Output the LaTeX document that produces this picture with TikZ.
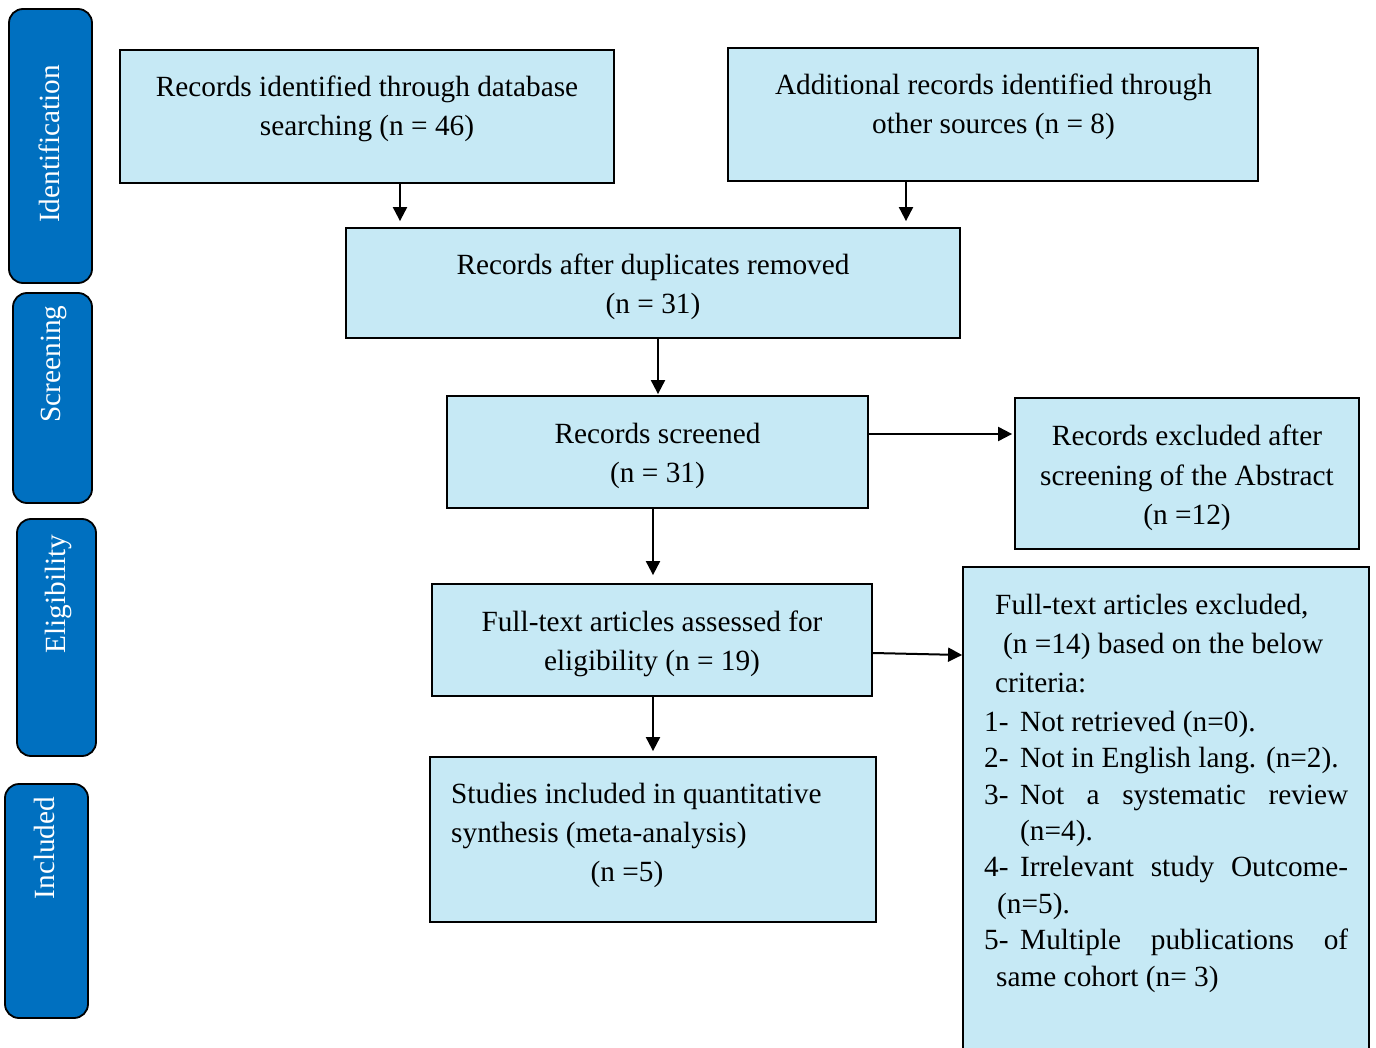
\documentclass[tikz,border=0pt]{standalone}
\usepackage{fontspec}
\setmainfont{Liberation Serif}
\usetikzlibrary{arrows.meta}
\definecolor{boxblue}{HTML}{C6E9F5}
\definecolor{tabblue}{HTML}{0070C0}
\tikzset{
  fbox/.style={draw=black, line width=1.8pt, fill=boxblue, inner sep=0pt},
  tabbox/.style={draw=black, line width=1.8pt, fill=tabblue, rounded corners=14pt, inner sep=0pt},
  tabtxt/.style={rotate=90, text=white, inner sep=0pt, font=\fontsize{29.3pt}{39pt}\selectfont},
  txt/.style={inner sep=0pt, anchor=base, font=\fontsize{29.3pt}{39pt}\selectfont},
  ltxt/.style={txt, anchor=base west},
  arr/.style={line width=2pt, -{Triangle[length=14pt,width=14pt]}}
}
\begin{document}
\begin{tikzpicture}[x=1pt,y=-1pt]
\useasboundingbox (0,0) rectangle (1376,1048);
\fill[white] (0,0) rectangle (1376,1048);

% side tabs
\node[tabbox, minimum width=83pt, minimum height=274pt] (tid) at (50.5,146) {};
\node[tabbox, minimum width=79pt, minimum height=210pt] (tsc) at (52.5,398) {};
\node[tabbox, minimum width=79pt, minimum height=237pt] (tel) at (56.5,637.5) {};
\node[tabbox, minimum width=83pt, minimum height=234pt] (tin) at (46.5,901) {};
\node[tabtxt] (tidt) at (49,144) {Identification};
\node[tabtxt] (tsct) at (54,364) {Screening};
\node[tabtxt] (telt) at (58,594) {Eligibility};
\node[tabtxt] (tint) at (44,848) {Included};

% boxes
\node[fbox, minimum width=494pt, minimum height=133pt] (db) at (367,116.5) {};
\node[fbox, minimum width=530pt, minimum height=133pt] (oth) at (993,114.5) {};
\node[fbox, minimum width=614pt, minimum height=110pt] (dup) at (653,283) {};
\node[fbox, minimum width=421pt, minimum height=112pt] (scr) at (657.5,452) {};
\node[fbox, minimum width=344pt, minimum height=151pt] (ex1) at (1187,473.5) {};
\node[fbox, minimum width=440pt, minimum height=112pt] (ful) at (652,640) {};
\node[fbox, minimum width=446pt, minimum height=165pt] (inc) at (653,839.5) {};
\node[fbox, minimum width=406pt, minimum height=503pt] (ex2) at (1166,818.5) {};

% texts
\node[txt] (db1) at (367,97) {Records identified through database};
\node[txt] (db2) at (367,136) {searching (n = 46)};
\node[txt] (ot1) at (993.5,95) {Additional records identified through};
\node[txt] (ot2) at (993.5,134) {other sources (n = 8)};
\node[txt] (du1) at (653,275) {Records after duplicates removed};
\node[txt] (du2) at (653,314) {(n = 31)};
\node[txt] (sc1) at (657.5,443) {Records screened};
\node[txt] (sc2) at (657.5,482) {(n = 31)};
\node[txt] (e11) at (1187,445) {Records excluded after};
\node[txt] (e12) at (1187,485) {screening of the Abstract};
\node[txt] (e13) at (1187,524) {(n =12)};
\node[txt] (fu1) at (652,631) {Full-text articles assessed for};
\node[txt] (fu2) at (652,670) {eligibility (n = 19)};
\node[ltxt] (in1) at (451,803) {Studies included in quantitative};
\node[ltxt] (in2) at (451,842) {synthesis (meta-analysis)};
\node[txt] (in3) at (627,881) {(n =5)};

\node[ltxt] (x01) at (995,614) {Full-text articles excluded,};
\node[ltxt] (x02) at (1003,653) {(n =14) based on the below};
\node[ltxt] (x03) at (995,692) {criteria:};
\node[ltxt] (n1) at (984,731) {1-};
\node[ltxt] (x04) at (1020,731) {Not retrieved (n=0).};
\node[ltxt] (n2) at (984,767) {2-};
\node[ltxt] (x05) at (1020,767) {Not in English lang. (n=2).};
\node[ltxt] (n3) at (984,804) {3-};
\node[ltxt] (x06) at (1020,804) {\hbox to 328pt{Not\hfill a\hfill systematic\hfill review}};
\node[ltxt] (x07) at (1020,840) {(n=4).};
\node[ltxt] (n4) at (984,876) {4-};
\node[ltxt] (x08) at (1020,876) {\hbox to 328pt{Irrelevant\hfill study\hfill Outcome-}};
\node[ltxt] (x09) at (997,913) {(n=5).};
\node[ltxt] (n5) at (984,949) {5-};
\node[ltxt] (x10) at (1020,949) {\hbox to 328pt{Multiple\hfill publications\hfill of}};
\node[ltxt] (x11) at (996,986) {same cohort (n= 3)};

% arrow guide coordinates
\coordinate (c1) at (400,0);
\coordinate (c2) at (906,0);
\coordinate (c3) at (658,0);
\coordinate (c4) at (653,0);
\coordinate (c5) at (0,434);
\coordinate (c6s) at (872,653);
\coordinate (c6e) at (963,655);

% arrows
\draw[arr, shorten >=6pt] (db.south -| c1) -- (dup.north -| c1);
\draw[arr, shorten >=6pt] (oth.south -| c2) -- (dup.north -| c2);
\draw[arr, shorten >=1pt] (dup.south -| c3) -- (scr.north -| c3);
\draw[arr, shorten >=8pt] (scr.south -| c4) -- (ful.north -| c4);
\draw[arr, shorten >=5pt] (ful.south -| c4) -- (inc.north -| c4);
\draw[arr, shorten >=2pt] (scr.east |- c5) -- (ex1.west |- c5);
\draw[arr] (ful.east |- c6s) -- (ex2.west |- c6e);
\end{tikzpicture}
\end{document}
